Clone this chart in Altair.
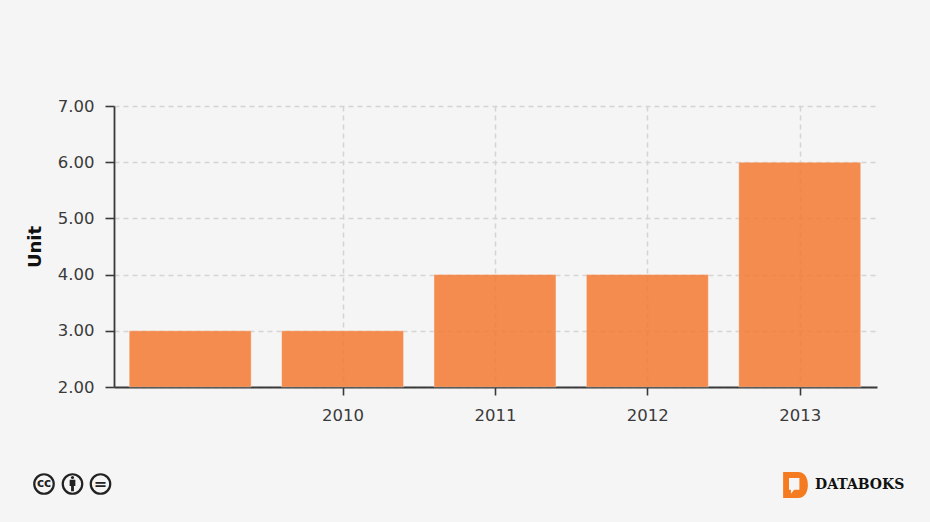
import altair as alt
import pandas as pd

years = [2009, 2010, 2011, 2012, 2013]
units = [3, 3, 4, 4, 6]
x_ticks = [2010, 2011, 2012, 2013]
y_ticks = [2, 3, 4, 5, 6, 7]

BG = "#f5f5f5"
INK = "#3a3a3a"
FONT = "DejaVu Sans"
data = pd.DataFrame({"year": years, "unit": units})
dummy = pd.DataFrame({"a": [0]})

bars = alt.Chart(data).mark_bar(
    size=122, color="#f37a32", opacity=0.85, stroke="#ffffff", strokeOpacity=0.4, strokeWidth=1
).encode(
    x=alt.X(
        "year:Q",
        scale=alt.Scale(domain=[2008.5, 2013.507], nice=False, zero=False, padding=0),
        axis=alt.Axis(
            values=x_ticks, format="d", title=None, labelFont=FONT, labelFontSize=16.5,
            labelColor=INK, tickColor=INK, tickSize=8, tickWidth=1.6, domainColor=INK, domainWidth=1.8,
            labelPadding=12, grid=True, gridColor="#d4d4d4", gridDash=[5, 4], gridWidth=1.5, labelFlush=False,
        ),
    ),
    y=alt.Y(
        "unit:Q",
        scale=alt.Scale(domain=[2, 7], nice=False, zero=False),
        axis=alt.Axis(
            values=y_ticks, format=".2f", title="Unit", titleFont=FONT, titleFontSize=18, titleFontWeight="bold",
            titleColor="#111111", titlePadding=13, labelFont=FONT, labelFontSize=16.5, labelColor=INK,
            tickColor=INK, tickSize=9, tickWidth=1.6, domainColor=INK, domainWidth=1.8, labelPadding=11,
            grid=True, gridColor="#d4d4d4", gridDash=[5, 4], gridWidth=1.5,
        ),
    ),
    y2=alt.datum(2),
)

base = alt.Chart(dummy)
# footer: licence badges (page coordinate minus the chart origin)
ORG_X, ORG_Y = 114 - 8, 106 - 8
def fx(px): return alt.value(px - 8 - ORG_X)
def fy(py): return alt.value(py - 8 - ORG_Y)

rings = alt.layer(*[
    base.mark_point(shape="circle", size=380, filled=False, stroke="#222222", strokeWidth=2.2, opacity=1).encode(x=fx(p), y=fy(484))
    for p in (44, 72.5, 100.5)
])
cc = base.mark_text(text="cc", font=FONT, fontWeight="bold", fontSize=12, color="#222222").encode(x=fx(44), y=fy(483))
head = base.mark_point(shape="circle", size=10, filled=True, color="#222222", opacity=1).encode(x=fx(72.5), y=fy(477.5))
body = base.mark_point(
    shape="M-0.5,-1 L0.5,-1 L0.5,0.1 L0.25,0.1 L0.25,1 L-0.25,1 L-0.25,0.1 L-0.5,0.1 Z",
    size=130, filled=True, color="#222222", opacity=1,
).encode(x=fx(72.5), y=fy(485.5))
eq = base.mark_text(text="=", font=FONT, fontWeight="bold", fontSize=16, color="#222222").encode(x=fx(100.5), y=fy(484))

logo_d = base.mark_point(
    shape="M-0.95,-1 L0.2,-1 C0.7,-1 0.95,-0.55 0.95,0 C0.95,0.55 0.7,1 0.2,1 L-0.95,1 Z",
    size=676, filled=True, color="#f47b20", opacity=1,
).encode(x=fx(795.5), y=fy(485))
logo_in = base.mark_point(
    shape="M-0.5,-0.54 L0.3,-0.54 L0.3,0.36 L-0.1,0.36 L-0.35,0.67 L-0.35,0.36 L-0.5,0.36 Z",
    size=676, filled=True, color=BG, opacity=1,
).encode(x=fx(795.5), y=fy(485))
brand = base.mark_text(
    text="DATABOKS", font="DejaVu Serif", fontWeight="bold", fontSize=14, color="#111111", align="left"
).encode(x=fx(815), y=fy(485))

chart = alt.layer(bars, rings, cc, head, body, eq, logo_d, logo_in, brand).properties(
    width=763, height=281, background=BG,
    autosize=alt.AutoSizeParams(type="none"),
    padding={"left": ORG_X, "top": ORG_Y, "right": 914 - ORG_X - 763, "bottom": 506 - ORG_Y - 281},
).configure_view(stroke=None)

chart.save("out.html", embed_options={"renderer": "svg", "actions": False,
                                      "defaultStyle": "html,body{background:#f5f5f5}"})
